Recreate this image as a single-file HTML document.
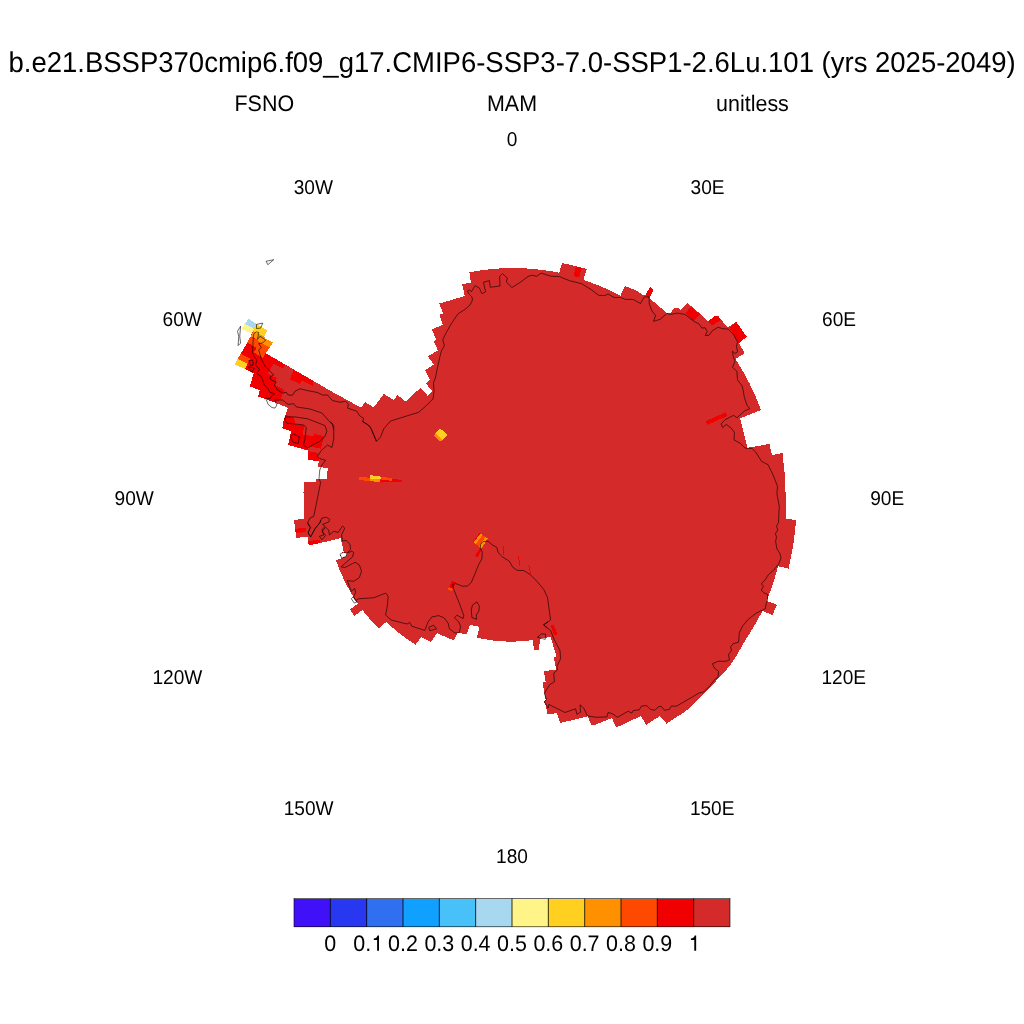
<!DOCTYPE html>
<html><head><meta charset="utf-8">
<style>
html,body{margin:0;padding:0;background:#fff;}
body{width:1024px;height:1024px;overflow:hidden;font-family:"Liberation Sans",sans-serif;}
svg{display:block;position:absolute;left:0;top:0;will-change:transform;}
text{font-family:"Liberation Sans",sans-serif;fill:#000;text-rendering:geometricPrecision;}
.t{font-size:28.6px;}
.s{font-size:22.5px;}
.l{font-size:19.9px;}
</style></head><body>
<svg width="1024" height="1024" viewBox="0 0 1024 1024">
<rect width="1024" height="1024" fill="#fff"/>
<text class="t" text-anchor="middle" x="512.1" y="71.8" transform="matrix(0.9615 0 0 1 19.696 0)">b.e21.BSSP370cmip6.f09_g17.CMIP6-SSP3-7.0-SSP1-2.6Lu.101 (yrs 2025-2049)</text>
<text class="s" text-anchor="middle" x="264.3" y="111.1" transform="matrix(0.9533 0 0 1 12.334 0)">FSNO</text>
<text class="s" text-anchor="middle" x="512" y="111.1" transform="matrix(0.9533 0 0 1 23.893 0)">MAM</text>
<text class="s" text-anchor="middle" x="752.5" y="111.1" transform="matrix(0.9533 0 0 1 35.117 0)">unitless</text>
<text class="l" text-anchor="middle" x="512" y="145.7" transform="matrix(0.9598 0 0 1 20.583 0)">0</text>
<text class="l" text-anchor="middle" x="313.3" y="193.8" transform="matrix(0.9598 0 0 1 12.595 0)">30W</text>
<text class="l" text-anchor="middle" x="707.6" y="193.8" transform="matrix(0.9598 0 0 1 28.446 0)">30E</text>
<text class="l" text-anchor="middle" x="182.2" y="325.5" transform="matrix(0.9598 0 0 1 7.325 0)">60W</text>
<text class="l" text-anchor="middle" x="839" y="325.5" transform="matrix(0.9598 0 0 1 33.729 0)">60E</text>
<text class="l" text-anchor="middle" x="134.2" y="504.6" transform="matrix(0.9598 0 0 1 5.395 0)">90W</text>
<text class="l" text-anchor="middle" x="887.2" y="504.5" transform="matrix(0.9598 0 0 1 35.666 0)">90E</text>
<text class="l" text-anchor="middle" x="177.4" y="683.8" transform="matrix(0.9598 0 0 1 7.132 0)">120W</text>
<text class="l" text-anchor="middle" x="843.8" y="683.8" transform="matrix(0.9598 0 0 1 33.922 0)">120E</text>
<text class="l" text-anchor="middle" x="308.6" y="814.9" transform="matrix(0.9598 0 0 1 12.406 0)">150W</text>
<text class="l" text-anchor="middle" x="712.2" y="814.9" transform="matrix(0.9598 0 0 1 28.631 0)">150E</text>
<text class="l" text-anchor="middle" x="512" y="862.9" transform="matrix(0.9598 0 0 1 20.583 0)">180</text>
<text class="s" text-anchor="middle" x="330.33" y="950.7" transform="matrix(0.9533 0 0 1 15.415 0)">0</text>
<text class="s" text-anchor="start" x="353.3" y="950.7" transform="matrix(0.9533 0 0 1 16.487 0)">0.</text>
<path d="M694.28,950.81 L694.28,940.03 L690.94,940.03 L690.94,938.47 C692.88,938.47 694.13,937.38 694.75,935.5 L696.16,935.5 L696.16,950.81 Z" fill="#000" transform="translate(-317.16 0)"/>
<text class="s" text-anchor="middle" x="403.0" y="950.7" transform="matrix(0.9533 0 0 1 18.807 0)">0.2</text>
<text class="s" text-anchor="middle" x="439.33" y="950.7" transform="matrix(0.9533 0 0 1 20.502 0)">0.3</text>
<text class="s" text-anchor="middle" x="475.67" y="950.7" transform="matrix(0.9533 0 0 1 22.198 0)">0.4</text>
<text class="s" text-anchor="middle" x="512.0" y="950.7" transform="matrix(0.9533 0 0 1 23.893 0)">0.5</text>
<text class="s" text-anchor="middle" x="548.33" y="950.7" transform="matrix(0.9533 0 0 1 25.589 0)">0.6</text>
<text class="s" text-anchor="middle" x="584.67" y="950.7" transform="matrix(0.9533 0 0 1 27.285 0)">0.7</text>
<text class="s" text-anchor="middle" x="621.0" y="950.7" transform="matrix(0.9533 0 0 1 28.980 0)">0.8</text>
<text class="s" text-anchor="middle" x="657.33" y="950.7" transform="matrix(0.9533 0 0 1 30.675 0)">0.9</text>
<path d="M694.28,950.81 L694.28,940.03 L690.94,940.03 L690.94,938.47 C692.88,938.47 694.13,937.38 694.75,935.5 L696.16,935.5 L696.16,950.81 Z" fill="#000"/>
<g id="map" shape-rendering="crispEdges">
<polygon fill="#D42A2A" points="469.40,272.25 477.49,270.83 485.63,269.71 493.80,268.87 502.00,268.33 510.22,268.08 518.44,268.13 526.65,268.47 534.85,269.10 543.03,270.03 551.16,271.24 559.25,272.75 562.00,262.90 586.75,269.00 583.40,280.00 591.03,282.59 598.56,285.45 605.99,288.58 613.31,291.96 620.50,295.60 624.90,286.00 638.00,291.25 643.00,295.60 645.50,295.00 650.00,286.90 653.75,289.75 649.40,298.10 666.90,313.10 670.00,313.10 675.00,307.90 678.75,307.90 680.60,309.75 687.25,302.90 701.25,314.75 708.10,321.25 715.00,316.00 718.10,316.00 727.50,327.50 736.25,321.90 746.90,336.90 738.75,343.10 744.75,353.10 735.60,359.00 744.40,373.75 749.06,382.56 753.38,391.55 757.36,400.70 761.00,410.00 740.00,418.50 747.50,447.75 769.40,444.00 771.90,455.00 782.50,453.10 785.10,477.50 785.70,498.00 785.70,518.75 796.00,520.00 794.91,532.23 793.30,544.40 791.16,556.50 788.50,568.50 778.10,566.25 775.02,577.23 771.48,588.07 767.50,598.75 766.90,600.90 776.90,604.70 772.50,615.00 762.50,611.00 754.50,625.50 745.50,640.00 737.50,654.00 731.25,663.75 725.00,671.50 718.10,678.75 709.00,688.70 700.00,697.80 694.90,702.90 686.00,710.90 681.00,714.40 674.75,718.10 666.60,723.75 660.00,716.00 646.25,724.75 641.00,716.00 616.25,727.50 611.90,718.10 595.00,724.75 591.00,724.75 587.75,716.25 560.00,723.10 556.90,713.10 547.50,714.40 546.00,706.25 544.00,701.25 545.60,700.00 542.50,682.50 545.60,681.90 544.00,671.25 556.25,669.40 553.75,657.50 556.50,656.50 550.60,636.90 539.60,638.75 539.40,649.75 534.40,650.50 532.50,640.00 527.46,640.67 522.40,641.16 517.32,641.48 512.23,641.61 507.14,641.56 502.05,641.33 496.98,640.92 491.92,640.34 486.88,639.57 481.87,638.62 476.90,637.50 479.40,626.90 470.00,624.75 466.90,634.40 457.50,632.50 454.00,640.60 436.90,633.10 431.25,641.90 421.25,636.90 415.60,644.75 410.39,641.39 405.30,637.84 400.34,634.12 395.50,630.22 390.81,626.14 386.25,621.90 378.50,628.50 371.25,620.60 366.78,615.38 362.50,610.00 354.40,616.00 350.00,609.40 357.75,603.75 353.96,597.90 350.38,591.92 347.04,585.80 343.92,579.57 341.04,573.23 338.40,566.79 336.00,560.25 342.50,558.10 340.00,555.60 342.50,552.25 343.75,551.90 340.60,538.10 320.00,543.10 308.75,545.40 307.50,536.90 296.25,537.75 294.00,520.00 303.75,518.75 303.50,492.50 304.40,481.90 315.60,482.50 316.25,479.00 326.90,479.40 327.75,468.10 318.10,466.90 318.75,461.25 307.50,459.75 308.50,450.60 288.10,445.00 291.25,431.25 282.25,428.10 283.75,420.00 285.60,414.40 287.75,407.75 275.00,402.50 266.25,399.40 258.10,396.50 259.75,390.25 249.75,386.25 253.75,373.50 245.20,369.20 234.60,364.20 237.70,358.90 240.50,353.90 247.40,342.60 250.80,336.40 251.40,333.90 241.75,328.60 244.90,323.60 248.60,318.90 256.10,323.90 266.75,330.40 263.90,336.10 265.50,338.60 272.70,342.60 269.75,347.60 265.60,353.10 330.00,390.60 361.25,407.75 365.00,401.90 373.75,407.50 383.75,394.00 393.75,400.00 397.50,395.00 405.60,401.50 420.60,387.75 427.50,395.60 432.75,391.25 426.00,383.75 430.00,380.00 425.00,370.25 433.75,364.40 427.75,356.25 437.75,350.60 434.00,341.25 436.00,339.40 431.90,329.40 442.75,324.75 439.40,314.75 443.10,313.75 439.40,303.50 464.75,296.00 462.10,284.00 471.00,282.75"/>
<polygon fill="#F00000" points="575.8,266.6 581.8,268 579,277.4 573.6,276.2"/>
<polygon fill="#F00000" points="650,286.9 653.75,289.75 649.4,298.1 645.5,295"/>
<polygon fill="#F00000" points="690.6,306.9 700,314.4 693.5,320.6 685.6,313.1"/>
<polygon fill="#F00000" points="708.1,321.25 715,316 718.1,316 721.25,320 711.9,325.6"/>
<polygon fill="#F00000" points="736.25,321.9 746.9,336.9 738.75,343.1 729.4,328.1"/>
<polygon fill="#F00000" points="705.6,421.25 725.6,412.25 727.5,416 707.5,424.75"/>
<polygon fill="#F00000" points="550.4,624.8 553.8,624.8 557.3,634.4 553.9,635.6"/>
<polygon fill="#F00000" points="480,548.1 481.6,549.4 477.5,557.5 475,555.6"/>
<polygon fill="#F00000" points="300,528.1 306,527.75 306,531.9 300,532.75"/>
<polygon fill="#F00000" points="295,528.75 305.6,527.75 306,531.9 295.6,532.75"/>
<polygon fill="#F00000" points="308.1,541 319.4,539.75 320,543.1 308.75,545.4"/>
<polygon fill="#F00000" points="308.5,451.25 318.1,452.75 318.75,461.25 307.5,459.75"/>
<polygon fill="#F00000" points="283.75,420 295,420 295,424.4 304.4,425.6 302.5,434.4 313.75,436.25 314.4,433.75 324.4,436.25 320.6,448.75 310,446.25 307.5,450 288.1,445 291.25,431.25 282.25,428.1"/>
<polygon fill="#F00000" points="285.6,414.4 293.75,417.5 295,421 283.5,421"/>
<polygon fill="#F00000" points="250.8,336.4 263.9,336.4 265.5,338.6 272.7,342.6 269.75,347.6 265.6,353.1 313.75,381.25 312.5,385.6 301.9,380.6 300,383.75 289.75,379.4 293.75,369.75 285.25,365 283.1,368.5 273.75,364 267.5,373.75 276.9,378.1 275,385 284.4,390 280,400 275,402.5 266.25,399.4 258.1,396.5 259.75,390.25 249.75,386.25 253.75,373.5 245.2,369.2 234.6,364.2 247.4,342.6"/>
<polygon fill="#FF4800" points="249.9,336.7 257.4,339.8 260.5,342.6 269.75,347.6 265.8,352.9 263,357.9 253.9,352.5 256.4,347.9 247.4,342.6"/>
<polygon fill="#FF9000" points="253.3,330.75 263.9,336.4 265.5,338.6 272.7,342.6 269.75,347.6 260.5,342.6 257.4,339.8 250.8,336.4"/>
<polygon fill="#FFD020" points="255.3,323.4 267.2,330.4 264.1,336.5 252.8,330.75"/>
<polygon fill="#A8D8F0" points="248.6,318.9 256.1,323.9 253.9,328.9 244.9,323.6"/>
<polygon fill="#FFF488" points="244.9,323.6 253.9,328.9 251.4,333.9 241.75,328.6"/>
<polygon fill="#FF4800" points="240.5,353.9 250.5,358.6 247.4,363.9 237.7,358.9"/>
<polygon fill="#FFD020" points="237.7,358.9 247.4,363.9 245.2,369.2 234.6,364.2"/>
<polygon fill="#FF9000" points="440,428.1 447.5,435.25 441,441.9 433.75,435.6"/>
<polygon fill="#FFD020" points="440,428.1 447.5,435.25 442.8,440 435.2,433"/>
<polygon fill="#FF4800" points="358.9,477 366.4,477.3 369.8,478.25 369.8,480.75 366.4,480.75 358.9,479.8"/>
<polygon fill="#FFD020" points="369.8,475.1 373.25,475.1 373.6,476.1 379.5,476.1 380.75,477.3 380.75,478.9 369.8,478.6"/>
<polygon fill="#FF9000" points="369.8,478.6 379.8,479 379.8,482 374.2,481.7 373.9,480.75 369.8,480.75"/>
<polygon fill="#FF4800" points="381.1,477 385.75,477.3 391.7,478.4 391.7,480.75 385.75,480.1 380.4,479.2"/>
<polygon fill="#F00000" points="379.8,479.5 385.75,480.1 391.7,480.75 392,478.6 398.25,479.5 401.7,480.1 402,481.9 395.75,481.5 390.75,482 382,482.6 379.8,481.4"/>
<polygon fill="#FF9000" points="480,533.4 487.8,538.4 481.6,548.4 473.4,542.2"/>
<polygon fill="#FF4800" points="482.3,534.9 485.3,536.8 479,546.4 476,544.2"/>
<polygon fill="#F00000" points="479.5,532.9 480.3,533.5 473.7,542.4 473,541.7"/>
<polygon fill="#F00000" points="452.2,580.5 456,582.8 452.8,589 449.2,586.8"/>
<polygon fill="#FF4800" points="449.2,586.8 452.8,589 451.5,591.5 447.8,589.3"/>
<polygon fill="#fff" points="340,554.4 343.1,552.25 346.9,553.1 346.25,556.25 341.9,558.1"/>
<polyline fill="none" stroke="#F00000" stroke-width="1" points="504,546 503.1,555"/>
<polyline fill="none" stroke="#F00000" stroke-width="1" points="518.5,556 519.75,566.25"/>
<polyline fill="none" stroke="#F00000" stroke-width="1" points="528.75,565 530.6,573.75"/>
<g fill="none" stroke="#000" stroke-width="0.6" stroke-linejoin="round" shape-rendering="auto">
<polyline points="435.4,378 437.5,367.5 440,356.25 441.25,351.25 444.4,345.6 442.75,340 445.6,333.75 451.25,323.75 458.1,313.75 465,309.4 470,305 472.5,300 471.9,296.9 468.75,293.75 467.5,291.25 469.4,289.75 471.25,291.9 475,285.6 479.4,288.1 481.9,293.75 485.6,291.9 483.5,282.25 489.4,280.6 490.25,287.25 500,286 499.6,276.25 502.5,273.75 507.5,278.1 506.25,281.9 511.9,287.5 520,282.5 528,276.5 531.75,275.25 536.75,276.25 541.1,273.1 551.1,276.25 559.25,276.5 569.25,280.6 581.75,283.75 591.75,290 598.6,295.25 604.9,295.6 608,294 614.25,297.5 620.5,297.5 625.5,299.4 633,299.4 640.5,303.5 644.25,296.9 649,296.9 649.25,303.75 651.75,310.6 655.6,315.6 653.5,321.25 660,319.4 666.9,313.5 670.6,314.4 677.5,313.1 685,314.4 693.75,321.25 698.75,323.75 701.9,328.1 705,327.75 707.25,331.25 705.25,335.6 709,335.25 712.5,330.6 718.1,327.25 723.1,328.75 728.1,329 733.75,335 737.5,341.9 736.5,346.25 737.5,351.9 735,353.5 732.5,351.25 733.1,356.25 735,361.25 732.5,367.25 736.9,371.25 737.5,380 741.9,385.6 743.1,390 744.4,397.5 746.9,405 749.75,408.75 745,410.6 736.9,417.75 733.5,415.4 725,419.75 721,424 722.75,427.5 726.25,424.4 731.25,428.1 734.4,432.5 734,440 740,443.1 745,448.1 751.9,448.5 755.6,451.9 761.5,461.25 768.1,464.75 773.1,475 777.5,486.25 776.9,493.75 779.4,506.9 779,510 778.5,522.5 776.5,526.25 777.75,530 775.4,533.75 776.5,536.9 775.6,541.25 776.9,548.75 780,553.75 781,558.1 778.75,563.75 773.75,570 768.1,575 765,580 761.25,584 763.5,586.25 761.25,590 763.75,592.75 767.5,594.4 767.5,600 766.25,603.1 765.25,608.75 756.25,613.1 747.5,620 742.5,626.25 739.4,632.5 738.5,642.25 733.1,643.75 730.6,646.9 731.5,650.6 728.5,654.4 729.4,659.75 726.25,661.25 718.1,661.25 712.5,663.75 714.4,668.1 718.5,671.25 718.1,676.9 713.75,680.6 710,685.6 703.75,691.9 698.75,693.1 692.5,696.9 683.75,701.9 676.25,706.25 671.25,706 669.4,709.4 664.4,710.25 661.25,706.25 658.1,706.9 655,710.25 650.6,709.4 646.25,705.4 641.25,706.25 639.4,709.75 633.1,710.6 631.9,713.1 628.1,711.25 617.5,717.25 612.5,713.75 608.1,712.5 606.9,716.9 596.25,717.25 587.5,716 583.75,708.1 580,704.75 580.6,712.25 576.9,714.4 575.6,708.75 565,712.5 548.75,704.4 548.1,708.1 544.4,701.9 546.5,699.4 544.4,693.75 546.25,690 550,684.4 554.4,681.9 553.75,673.1 557.5,670 556.9,666.25 560.6,658.75 560,650.6 554.4,640 550.6,630.6 543.5,624.75 550.6,620 547.5,597.5 543.75,589.4 537.5,581.9 530,574.4 523.75,570.6 516.9,570.25 512.5,566.9 509.4,561.25 502.5,556.9 498.1,552.5 496.9,547.5 492.5,545 488.1,541.25 483.1,541.5 480.6,544.4 480.25,548.1 482.25,551.9 481.9,558.75 478.75,564.4 475,573.75 471.25,582.5 467.5,586 462.5,586.25 455.6,583.5 452.5,584.4 453.75,589.4 460,605 463.75,615.6 463.1,618.5 456.9,615.25 454.4,617.75 458.75,621.9 460.6,626.25 459.4,632.5 455,633.1 449.4,628.75 448.1,623.1 444.4,618.1 438.75,615.6 431.9,616.9 428.1,621.9 424.8,630.4 411.9,626.25 409.75,622.5 406.9,624 391.25,620 385.6,615 387.5,605 388.1,596.25 385.6,593.1 373.75,597.75 358.75,598.75 355.6,600.6 353.5,596.9 355.6,592.5 354.75,588.5 351.25,591.25 347.25,580.6 353.75,581.25 359.4,577.5 361.5,571.25 359.4,565 355,562.25 345,567.5 341,566.9 352.5,556.9 353.75,552.5 351.9,551.25 347.5,552.75 350.6,549.4 350,544.4 346.25,540.4 342.5,541 341.5,535 344.75,528.1 342.5,526 338.1,532.5 333.75,531.25 329.4,535 328.75,530 325.6,527.25 322.25,531.25 325.6,535.6 321.9,539.75 319.4,536.25 323.75,535 321.9,530 325,526.25 322.5,524.4 328.75,521.9 329.75,519.4 326.25,517.25 321.9,518.1 320,522.5 315,528.75 310.6,536.9 308.1,533.1 310,527.5 307.5,523.1 310,518.1 313.75,516.25 318.1,495 320.6,482.5 319,478.75 319.75,470 321.9,465 325.6,460.25 320,458.75 317.5,456.25 321.25,450.6 327.5,445 331.9,447.5 333.75,438.75 333.75,425.6 328.1,420 322,413 310,409 296.25,406.9 293.75,403.75 288.1,404.4 282.5,400 274.4,400"/>
<polyline points="256.25,331.9 253.75,333.75 253.1,341.25 252.5,352.5 254.4,356.9 256.9,360 255.6,365 259.4,369.4 256.9,373.75 261.25,376.25 264.4,385 268.1,388.75 270,392.5 275,393.75 271.25,396.25 270,398.75 265.6,398.1 266.25,399.4 268.1,404.4 271.9,407.5 275,408.1 276.9,405 275,400.6"/>
<polyline points="256.25,331.9 258.75,332.5 257.5,339.4 260,336.25 265.6,340 262.5,343.1 258.75,343.5 261.25,347.5 258.75,350 261.25,358.75 265,366.25 273.75,375 270,376.9 271.25,380 276.25,381.9 274.4,385 277.5,390 282.5,393.1 286.25,392.25 288.1,395 292.5,395.25 295,391.25 300,388.75 307.5,390.6 317.5,392.5 322.5,395 327.5,395 332.5,400.6 340,402.25 345.6,401.25 348.5,404.4 347.5,408.1 356.9,411.25 359.4,415.6 363.5,418.1 362.75,421.9 367.5,424.4 371.25,428.75 376.5,441.25 380.6,436.9 383.75,428.75 390.6,421 403.75,416.9 418.75,412.25 426.25,405.6 433.1,398.75 434,391.25 433.5,382.5 435.4,378"/>
<polyline points="285,416.9 295,416.9 307.5,418.75 318.75,423.1 325,425.6 326.9,431.25 325,436.25 320,441.25 313.75,444.4 307.5,448.1 303.5,445 305,438.75 306.25,427.5 303.75,425 286.9,423.1 285,420 285,416.9"/>
<polyline points="290.6,436.25 293.75,434 299.4,436.9 298.1,443.75 292.5,441.9 290.6,436.25"/>
<polyline points="330,421.9 332.5,423.75 333.5,430"/>
<polyline points="266.1,261.25 273.75,259.7 267.8,264.7 266.1,261.25"/>
<polyline points="240.6,326.25 237.5,331.25 238.75,336.25 238.1,345.6 240.6,343.1 239.75,336.25 240.6,326.25"/>
<polyline points="256.5,324.4 262.75,323.1 260.6,328.1 256.5,328.5 256.5,324.4"/>
<polyline points="248.75,360.6 252.75,360.25 253.1,365 250.6,365.6 248.75,360.6"/>
<polyline points="248.75,366.9 254.4,368.1 251.9,372.25 249,368.1 248.75,366.9"/>
<polyline points="340,554.4 343.1,552.25 346.9,553.1 346.25,556.25 341.9,558.1 340,554.4"/>
<polyline points="351.25,598.75 353.1,596.9 356.9,601.9 354.4,603.1 351.25,598.75"/>
<polyline points="428.75,627.25 433.75,625.25 436.5,629 429.75,630.6 428.75,627.25"/>
<polyline points="476.9,601.9 472.5,605 471.25,610 471.9,617.5 476.5,619.4 476.25,615 478.75,611.25 479.4,606.25 476.9,601.9"/>
<polyline points="537.5,637.25 541.25,634 545.6,634 545.25,639.4 537.5,637.25"/>
<polyline points="548,621.9 543.75,624.75 546.9,628.1"/>
<polyline points="307.5,522.5 310.6,527.5 308.1,532.5 310.6,536.9 315,528.75 320,522.5 320.6,520"/>
<polyline points="362.5,421.25 370,426.25 376.25,441.25"/>
</g></g>
<g shape-rendering="crispEdges">
<rect x="294.00" y="898.5" width="36.83" height="28.3" fill="#4010F8"/>
<rect x="330.33" y="898.5" width="36.83" height="28.3" fill="#2838F0"/>
<rect x="366.67" y="898.5" width="36.83" height="28.3" fill="#3070F0"/>
<rect x="403.00" y="898.5" width="36.83" height="28.3" fill="#10A0FF"/>
<rect x="439.33" y="898.5" width="36.83" height="28.3" fill="#48C0F8"/>
<rect x="475.67" y="898.5" width="36.83" height="28.3" fill="#A8D8F0"/>
<rect x="512.00" y="898.5" width="36.83" height="28.3" fill="#FFF488"/>
<rect x="548.33" y="898.5" width="36.83" height="28.3" fill="#FFD020"/>
<rect x="584.67" y="898.5" width="36.83" height="28.3" fill="#FF9000"/>
<rect x="621.00" y="898.5" width="36.83" height="28.3" fill="#FF4800"/>
<rect x="657.33" y="898.5" width="36.83" height="28.3" fill="#F00000"/>
<rect x="693.67" y="898.5" width="36.33" height="28.3" fill="#D42A2A"/>
</g>
<g stroke="#000" fill="none"><rect stroke-width="0.6" x="294.0" y="898.5" width="436.0" height="28.3"/><path stroke-width="0.8" d="M330.33 898.5v28.3M366.67 898.5v28.3M403.00 898.5v28.3M439.33 898.5v28.3M475.67 898.5v28.3M512.00 898.5v28.3M548.33 898.5v28.3M584.67 898.5v28.3M621.00 898.5v28.3M657.33 898.5v28.3M693.67 898.5v28.3"/></g>
</svg>
</body></html>
